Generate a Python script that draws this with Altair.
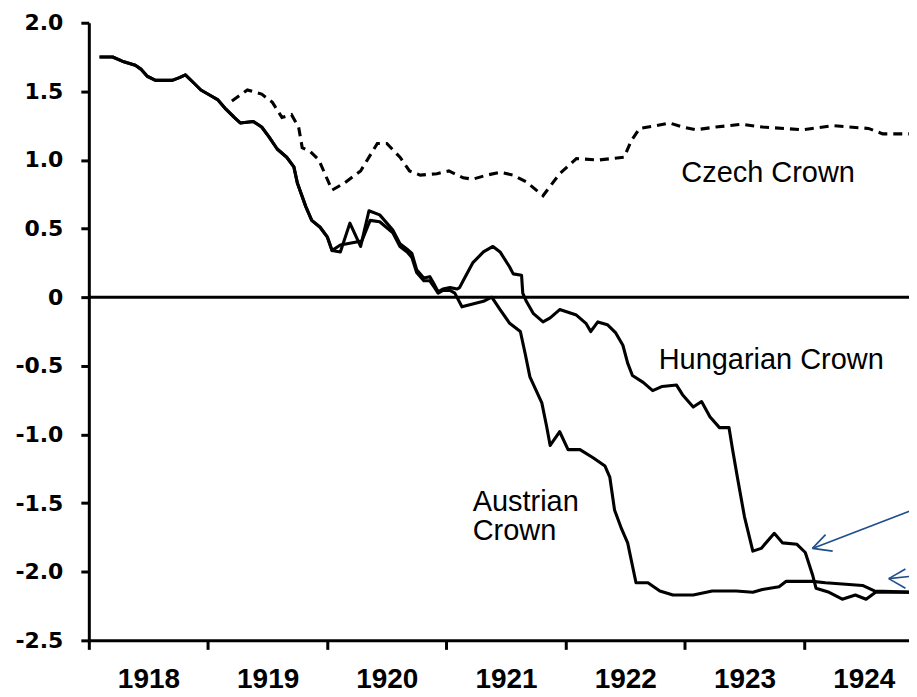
import altair as alt
import pandas as pd

# ---- data (x = fractional year, y = value) ----
# Common Austro-Hungarian crown, before the two series separate
common_x = [1918.09, 1918.20, 1918.28, 1918.39, 1918.44, 1918.49, 1918.56, 1918.70, 1918.76, 1918.81,
            1918.87, 1918.94, 1919.02, 1919.08, 1919.15, 1919.22, 1919.27, 1919.38, 1919.45, 1919.51,
            1919.58, 1919.66, 1919.72, 1919.75, 1919.82, 1919.87, 1919.94, 1920.00, 1920.04]
common_y = [1.75, 1.75, 1.72, 1.69, 1.66, 1.61, 1.58, 1.58, 1.60, 1.62,
            1.57, 1.51, 1.47, 1.44, 1.37, 1.31, 1.27, 1.28, 1.24, 1.17,
            1.08, 1.02, 0.95, 0.83, 0.66, 0.56, 0.51, 0.44, 0.34]

# 1920 wiggle, where the two lines cross each other
hun_mid_x = [1920.11, 1920.19, 1920.28, 1920.35, 1920.44, 1920.55]
hun_mid_y = [0.33, 0.54, 0.37, 0.63, 0.60, 0.49]
aus_mid_x = [1920.11, 1920.29, 1920.36, 1920.44, 1920.55]
aus_mid_y = [0.38, 0.41, 0.56, 0.55, 0.47]

# late 1920 (nearly coincident double line)
late20_x = [1920.61, 1920.67, 1920.71, 1920.75, 1920.81, 1920.86, 1920.90, 1920.93, 1920.97, 1921.03]
hun_late20_y = [0.39, 0.35, 0.32, 0.20, 0.14, 0.15, 0.09, 0.04, 0.06, 0.07]
aus_late20_y = [0.37, 0.33, 0.29, 0.18, 0.12, 0.12, 0.07, 0.03, 0.05, 0.05]

hun_tail_x = [1921.09, 1921.11, 1921.14, 1921.22, 1921.31, 1921.39, 1921.45, 1921.53, 1921.56, 1921.63,
              1921.64, 1921.67, 1921.73, 1921.81, 1921.87, 1921.95, 1922.09, 1922.17, 1922.21, 1922.27,
              1922.35, 1922.42, 1922.48, 1922.52, 1922.56, 1922.65, 1922.73, 1922.81, 1922.93, 1922.98,
              1923.07, 1923.14, 1923.21, 1923.29, 1923.37, 1923.40, 1923.44, 1923.50, 1923.57, 1923.64,
              1923.75, 1923.82, 1923.94, 1924.01, 1924.07, 1924.10, 1924.21, 1924.32, 1924.43, 1924.52,
              1924.60, 1924.94]
hun_tail_y = [0.06, 0.07, 0.12, 0.25, 0.33, 0.37, 0.33, 0.22, 0.17, 0.16,
              0.03, -0.03, -0.12, -0.18, -0.15, -0.09, -0.13, -0.19, -0.25, -0.18,
              -0.20, -0.26, -0.35, -0.48, -0.57, -0.62, -0.68, -0.65, -0.64, -0.71,
              -0.80, -0.76, -0.87, -0.95, -0.95, -1.11, -1.31, -1.60, -1.85, -1.83,
              -1.72, -1.79, -1.80, -1.86, -2.02, -2.12, -2.15, -2.20, -2.17, -2.20,
              -2.15, -2.15]

aus_tail_x = [1921.07, 1921.13, 1921.22, 1921.31, 1921.38, 1921.45, 1921.53, 1921.62, 1921.66, 1921.70,
              1921.80, 1921.84, 1921.87, 1921.95, 1922.02, 1922.12, 1922.23, 1922.33, 1922.37, 1922.41,
              1922.47, 1922.52, 1922.59, 1922.69, 1922.79, 1922.90, 1923.07, 1923.23, 1923.43, 1923.57,
              1923.65, 1923.79, 1923.85, 1924.07, 1924.18, 1924.49, 1924.59, 1924.94]
aus_tail_y = [0.03, -0.07, -0.05, -0.03, 0.00, -0.09, -0.19, -0.25, -0.41, -0.58,
              -0.77, -0.94, -1.08, -0.98, -1.11, -1.11, -1.17, -1.23, -1.31, -1.55,
              -1.69, -1.79, -2.08, -2.08, -2.14, -2.17, -2.17, -2.14, -2.14, -2.15,
              -2.13, -2.11, -2.07, -2.07, -2.08, -2.10, -2.14, -2.15]

czech_x = [1919.20, 1919.33, 1919.45, 1919.54, 1919.62, 1919.70, 1919.76, 1919.79, 1919.86, 1919.93,
           1919.98, 1920.04, 1920.14, 1920.28, 1920.42, 1920.50, 1920.61, 1920.69, 1920.78, 1920.92,
           1921.02, 1921.14, 1921.22, 1921.34, 1921.45, 1921.56, 1921.67, 1921.81, 1921.95, 1922.09,
           1922.28, 1922.49, 1922.55, 1922.62, 1922.76, 1922.87, 1922.98, 1923.09, 1923.26, 1923.48,
           1923.65, 1923.99, 1924.24, 1924.38, 1924.54, 1924.66, 1924.91]
czech_y = [1.43, 1.51, 1.48, 1.42, 1.31, 1.33, 1.24, 1.09, 1.06, 1.00,
           0.90, 0.78, 0.83, 0.92, 1.12, 1.12, 1.02, 0.92, 0.89, 0.90,
           0.92, 0.87, 0.86, 0.89, 0.91, 0.89, 0.84, 0.74, 0.90, 1.01,
           1.00, 1.02, 1.14, 1.23, 1.25, 1.27, 1.24, 1.22, 1.24, 1.26,
           1.24, 1.22, 1.25, 1.24, 1.23, 1.19, 1.19]

# annotations
label_text = ["Czech Crown", "Hungarian Crown", "Austrian", "Crown"]
label_x = [1922.97, 1922.78, 1921.22, 1921.22]
label_y = [0.84, -0.52, -1.56, -1.77]

# blue arrows (segments)
arrow_x = [1924.94, 1924.07, 1924.07, 1924.94, 1924.71, 1924.71]
arrow_y = [-1.54, -1.83, -1.83, -2.03, -2.05, -2.05]
arrow_x2 = [1924.07, 1924.18, 1924.24, 1924.71, 1924.85, 1924.85]
arrow_y2 = [-1.83, -1.73, -1.85, -2.05, -1.98, -2.12]

y_ticks = [-2.5, -2.0, -1.5, -1.0, -0.5, 0.0, 0.5, 1.0, 1.5, 2.0]
x_ticks = [1918, 1918.5, 1919, 1919.5, 1920, 1920.5, 1921, 1921.5, 1922, 1922.5, 1923, 1923.5, 1924, 1924.5]

# ---- build tables ----
rows = []
def add(series, xs, ys):
    for a, b in zip(xs, ys):
        rows.append({"series": series, "x": a, "y": b, "i": len(rows)})

add("Austrian", common_x, common_y)
add("Austrian", aus_mid_x, aus_mid_y)
add("Austrian", late20_x, aus_late20_y)
add("Austrian", aus_tail_x, aus_tail_y)
add("Hungarian", common_x, common_y)
add("Hungarian", hun_mid_x, hun_mid_y)
add("Hungarian", late20_x, hun_late20_y)
add("Hungarian", hun_tail_x, hun_tail_y)
solid = pd.DataFrame(rows)
czech = pd.DataFrame({"x": czech_x, "y": czech_y, "i": range(len(czech_x))})
labels = pd.DataFrame({"x": label_x, "y": label_y, "t": label_text})
arrows = pd.DataFrame({"x": arrow_x, "y": arrow_y, "x2": arrow_x2, "y2": arrow_y2})
zero = pd.DataFrame({"y": [0.0]})

xscale = alt.Scale(domain=[1918, 1924.88], nice=False, zero=False)
yscale = alt.Scale(domain=[-2.5, 2.0], nice=False, zero=False)

xaxis = alt.Axis(
    values=x_ticks, title=None, grid=False,
    labelExpr="datum.value % 1 == 0.5 ? toString(floor(datum.value)) : ''",
    tickOpacity={"condition": {"test": "datum.value % 1 != 0", "value": 0}, "value": 1},
    domainColor="black", domainWidth=3, tickColor="black", tickWidth=3, tickSize=9,
    labelFont="Liberation Sans", labelFontSize=28, labelFontWeight="bold", labelColor="black",
    labelPadding=16, labelFlush=False, labelOverlap=False, labelBound=False,
)
yaxis = alt.Axis(
    values=y_ticks, title=None, grid=False,
    labelExpr="datum.value == 0 ? '0' : (datum.value < 0 ? '-' : '') + format(abs(datum.value), '.1f')",
    domainColor="black", domainWidth=3, tickColor="black", tickWidth=3, tickSize=8,
    labelFont="DejaVu Sans", labelFontSize=22, labelFontWeight="bold", labelColor="black",
    labelPadding=18, labelOverlap=False, labelBound=False,
)

X = alt.X("x:Q", scale=xscale, axis=xaxis)
Y = alt.Y("y:Q", scale=yscale, axis=yaxis)

zero_rule = alt.Chart(zero).mark_rule(color="black", strokeWidth=3).encode(y=alt.Y("y:Q", scale=yscale))

solid_lines = alt.Chart(solid).mark_line(color="black", strokeWidth=3.1, strokeJoin="round", clip=True).encode(
    x=X, y=Y, detail="series:N", order="i:Q"
)
czech_line = alt.Chart(czech).mark_line(color="black", strokeWidth=3.1, strokeDash=[9, 6], clip=True).encode(
    x=alt.X("x:Q", scale=xscale), y=alt.Y("y:Q", scale=yscale), order="i:Q"
)
texts = alt.Chart(labels).mark_text(
    align="left", baseline="alphabetic", font="Liberation Sans", fontSize=29, color="black"
).encode(x=alt.X("x:Q", scale=xscale), y=alt.Y("y:Q", scale=yscale), text="t:N")

arrow_marks = alt.Chart(arrows).mark_rule(color="#1f4e8c", strokeWidth=1.6, clip=True).encode(
    x=alt.X("x:Q", scale=xscale), y=alt.Y("y:Q", scale=yscale), x2="x2:Q", y2="y2:Q"
)

chart = alt.layer(zero_rule, solid_lines, czech_line, texts, arrow_marks).properties(
    width=822, height=619,
    autosize=alt.AutoSizeParams(type="none"),
    padding={"left": 81, "top": 14, "right": 0, "bottom": 54},
    background="white",
).configure_view(stroke=None)

chart.save("out.html", embed_options={"renderer": "svg", "actions": False})
